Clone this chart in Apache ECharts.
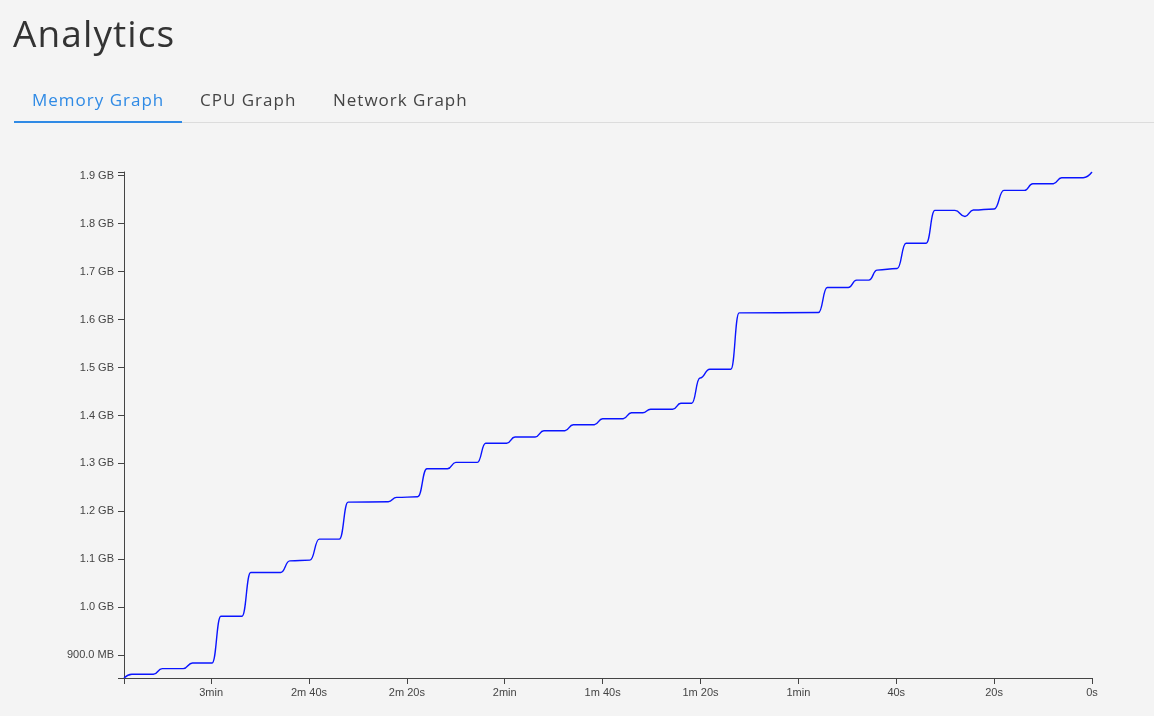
<!DOCTYPE html>
<html>
<head>
<meta charset="utf-8">
<script src="https://cdn.jsdelivr.net/npm/echarts@6/dist/echarts.min.js"></script>
<style>
  html, body { margin: 0; padding: 0; background: #f4f4f4; width: 1154px; height: 716px; overflow: hidden; }
  #chart { position: absolute; left: 0; top: 0; width: 1154px; height: 716px; }
  .title { position: absolute; left: 13px; top: 7px; font-family: 'Open Sans', 'Noto Sans', sans-serif; font-size: 37px; color: #333; letter-spacing: 1.1px; }
  .tab { position: absolute; top: 88px; font-family: 'Open Sans', 'Noto Sans', sans-serif; font-size: 17px; color: #444; letter-spacing: 1px; }
  .tab.active { color: #2f8ae5; }
  .rule { position: absolute; left: 14px; top: 122px; width: 1140px; height: 1px; background: #dcdcdc; }
  .ink { position: absolute; left: 14px; top: 121px; width: 168px; height: 2px; background: #2f8ae5; }
</style>
</head>
<body>
<div id="chart"></div>
<div class="title">Analytics</div>
<div class="tab active" style="left:32px">Memory Graph</div>
<div class="tab" style="left:200px">CPU Graph</div>
<div class="tab" style="left:333px">Network Graph</div>
<div class="rule"></div>
<div class="ink"></div>
<script>
// seconds ago (x) and memory used in GB (y)
const secondsAgo = [197.8, 196.2, 191.8, 190.0, 185.7, 183.8, 179.8, 178.0, 173.7, 171.9,
  165.8, 163.9, 159.8, 157.9, 153.8, 152.0, 143.8, 142.1, 137.8, 135.9,
  131.7, 130.0, 125.6, 123.9, 119.6, 117.9, 113.8, 112.0, 107.7, 106.0,
  101.7, 100.0, 95.8, 94.1, 91.8, 90.2, 85.7, 84.0, 81.8, 80.1,
  78.1, 73.8, 72.1, 55.9, 54.1, 49.8, 48.1, 45.6, 43.9, 39.8,
  38.0, 33.9, 32.1, 28.0, 25.95, 24.25, 20.0, 18.0, 13.8, 12.1,
  7.9, 6.2, 1.8, 0];
const memoryGB = [0.8526, 0.8603, 0.8603, 0.8722, 0.8722, 0.8839, 0.8839, 0.9814, 0.9814, 1.0727,
  1.0727, 1.0969, 1.0983, 1.1422, 1.1422, 1.2194, 1.2200, 1.2292, 1.2305, 1.2889,
  1.2889, 1.3023, 1.3023, 1.3420, 1.3420, 1.3551, 1.3551, 1.3683, 1.3683, 1.3808,
  1.3808, 1.3933, 1.3933, 1.4058, 1.4058, 1.4129, 1.4129, 1.4255, 1.4255, 1.4783,
  1.4965, 1.4965, 1.6140, 1.6146, 1.6668, 1.6668, 1.6823, 1.6823, 1.7031, 1.7065,
  1.7591, 1.7591, 1.8276, 1.8276, 1.8150, 1.8284, 1.8305, 1.8693, 1.8693, 1.8833,
  1.8833, 1.8958, 1.8958, 1.9077];

const xTickValues = [0, 20, 40, 60, 80, 100, 120, 140, 160, 180];
const xTickLabels = ['0s', '20s', '40s', '1min', '1m 20s', '1m 40s', '2min', '2m 20s', '2m 40s', '3min'];
const yTickValues = [0.9, 1.0, 1.1, 1.2, 1.3, 1.4, 1.5, 1.6, 1.7, 1.8, 1.9];
const yTickLabels = ['900.0 MB', '1.0 GB', '1.1 GB', '1.2 GB', '1.3 GB', '1.4 GB', '1.5 GB', '1.6 GB', '1.7 GB', '1.8 GB', '1.9 GB'];

const xMax = Math.max(...secondsAgo);
const yMin = Math.min(...memoryGB);
const yMax = Math.max(...memoryGB);

const points = secondsAgo.map((s, i) => [s, memoryGB[i]]);

const axisColor = '#444';
const labelStyle = { color: '#444', fontFamily: 'Liberation Sans, Arial, sans-serif', fontSize: 11 };

function lookup(values, labels, v) {
  for (let i = 0; i < values.length; i++) if (Math.abs(values[i] - v) < 1e-6) return labels[i];
  return '';
}

const chart = echarts.init(document.getElementById('chart'), null, { renderer: 'canvas' });
chart.setOption({
  backgroundColor: 'transparent',
  animation: false,
  grid: { left: 124, right: 62, top: 172, bottom: 38, containLabel: false },
  xAxis: {
    type: 'value',
    inverse: true,
    min: 0,
    max: xMax,
    splitLine: { show: false },
    axisLine: { show: true, onZero: false, lineStyle: { color: axisColor, width: 1 } },
    axisTick: { show: true, length: 6, lineStyle: { color: axisColor }, customValues: xTickValues.concat([xMax]) },
    axisLabel: Object.assign({ margin: 9, customValues: xTickValues,
      formatter: v => lookup(xTickValues, xTickLabels, v) }, labelStyle)
  },
  yAxis: {
    type: 'value',
    min: yMin,
    max: yMax,
    splitLine: { show: false },
    axisLine: { show: true, onZero: false, lineStyle: { color: axisColor, width: 1 } },
    axisTick: { show: true, length: 6, lineStyle: { color: axisColor }, customValues: yTickValues.concat([yMin, yMax]) },
    axisLabel: Object.assign({ margin: 10, customValues: yTickValues,
      formatter: v => lookup(yTickValues, yTickLabels, v) }, labelStyle)
  },
  series: [{
    type: 'line',
    data: points,
    showSymbol: false,
    smooth: 0.5,
    smoothMonotone: 'x',
    lineStyle: { color: '#0a14ff', width: 1.4 },
    silent: true
  }]
});
</script>
</body>
</html>
